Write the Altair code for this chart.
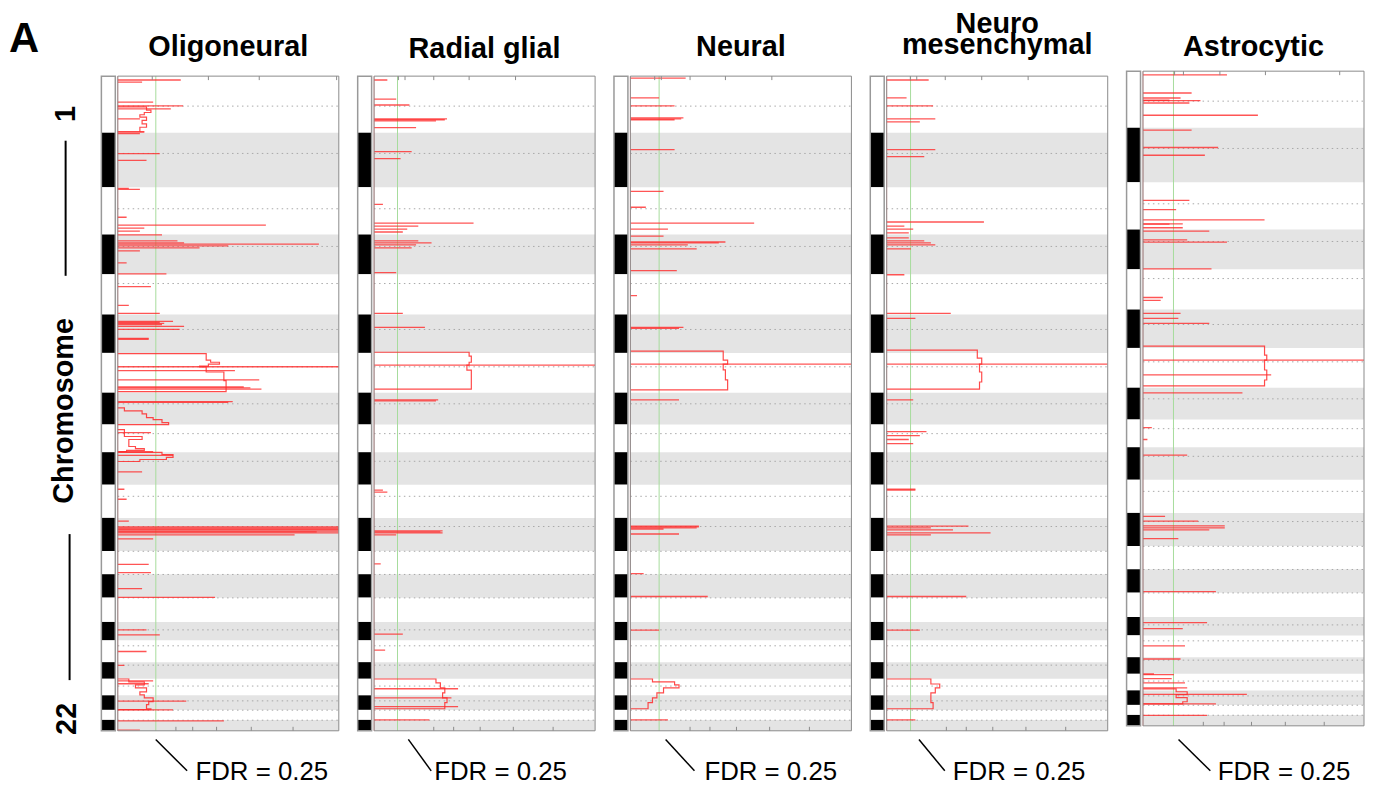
import altair as alt
import pandas as pd

# ---------------- data ----------------
chrom_len = [249, 240, 208, 175, 177, 169, 175, 140, 122, 143, 146, 146,
             102, 103, 107, 81, 96, 73, 73, 64, 44, 48]
cen_frac = [0.53, 0.38, 0.455, 0.30, 0.23, 0.39, 0.35, 0.35, 0.33, 0.28, 0.35, 0.26,
            0.01, 0.01, 0.01, 0.43, 0.25, 0.18, 0.44, 0.38, 0.03, 0.03]

panel_titles = ["Oligoneural", "Radial glial", "Neural", ["Neuro", "mesenchymal"], "Astrocytic"]
fdr_threshold = [0.172, 0.106, 0.130, 0.108, 0.138]
fdr_label = "FDR = 0.25"

ticks_top = [[0.156, 0.41, 0.64, 0.99],
             [0.11, 0.14, 0.27, 0.43, 0.64],
             [0.11, 0.14, 0.27, 0.43, 0.64],
             [0.107, 0.136, 0.265, 0.43, 0.64],
             [0.143, 0.183, 0.348, 0.554, 0.89]]
ticks_bottom = [[0.263, 0.339, 0.447, 0.604, 0.793],
                [0.27, 0.36, 0.48, 0.63, 0.81],
                [0.27, 0.36, 0.48, 0.63, 0.81],
                [0.27, 0.36, 0.48, 0.63, 0.81],
                [0.273, 0.367, 0.491, 0.644, 0.82]]

# spikes: genome position (Mb, cumulative) and score
p1_pos = [17, 26, 114, 131, 144, 188, 245, 253, 341, 371, 494, 498, 621, 656, 669, 682, 699,
          725, 734, 739, 747, 756, 769, 822, 870, 926, 1009, 1044, 1079, 1084, 1088, 1093, 1101,
          1114, 1154, 1158, 1279, 1296, 1337, 1368, 1372, 1377, 1432, 1436, 1569, 1653, 1669,
          1742, 1818, 1862, 1958, 1984, 1988, 1993, 1997, 2002, 2006, 2010, 2019, 2036, 2149,
          2185, 2255, 2294, 2437, 2459, 2532, 2593, 2661, 2674, 2750, 2789, 2837, 2878]
p1_val = [0.285, 0.11, 0.16, 0.295, 0.24, 0.10, 0.12, 0.10, 0.19, 0.13, 0.05, 0.10, 0.04, 0.67,
          0.12, 0.10, 0.20, 0.27, 0.30, 0.91, 0.50, 0.37, 0.10, 0.04, 0.22, 0.15, 0.05, 0.19,
          0.25, 0.19, 0.21, 0.20, 0.30, 0.28, 0.14, 0.14, 1.0, 0.53, 0.64, 0.57, 0.60, 0.65,
          0.52, 0.50, 0.15, 0.16, 0.25, 0.11, 0.03, 0.04, 0.05, 1.0, 1.0, 1.0, 1.0, 1.0, 0.9,
          1.0, 0.8, 0.16, 0.14, 0.15, 0.11, 0.44, 0.13, 0.19, 0.13, 0.03, 0.16, 0.14, 0.31,
          0.25, 0.48, 0.10]
p2_pos = [17, 101, 127, 188, 192, 197, 227, 332, 363, 564, 647, 660, 673, 686, 725, 734, 743,
          756, 865, 1044, 1106, 1272, 1425, 1429, 1822, 1831, 2001, 2006, 2010, 2019, 2146,
          2456, 2526, 2696, 2736, 2775, 2833]
p2_val = [0.06, 0.10, 0.16, 0.33, 0.32, 0.28, 0.19, 0.17, 0.12, 0.04, 0.45, 0.20, 0.15, 0.13,
          0.20, 0.26, 0.19, 0.17, 0.10, 0.13, 0.23, 1.0, 0.29, 0.28, 0.04, 0.06, 0.31, 0.30,
          0.31, 0.10, 0.03, 0.13, 0.05, 0.38, 0.35, 0.38, 0.25]
p3_pos = [9, 96, 131, 184, 188, 192, 323, 507, 577, 647, 673, 704, 730, 734, 743, 760, 856, 966,
          1106, 1110, 1267, 1425, 1980, 1984, 1988, 1993, 2015, 2189, 2290, 2438, 2833]
p3_val = [0.25, 0.13, 0.20, 0.24, 0.23, 0.20, 0.20, 0.15, 0.07, 0.56, 0.17, 0.15, 0.43, 0.40,
          0.26, 0.30, 0.21, 0.03, 0.24, 0.22, 1.0, 0.22, 0.31, 0.31, 0.30, 0.15, 0.22, 0.06,
          0.35, 0.13, 0.17]
p4_pos = [17, 96, 131, 188, 201, 323, 354, 642, 660, 673, 690, 712, 725, 734, 743, 760, 874,
          1044, 1066, 1267, 1425, 1564, 1582, 1599, 1617, 1818, 1822, 1980, 1988, 1997, 2010,
          2019, 2290, 2438, 2833]
p4_val = [0.19, 0.09, 0.21, 0.22, 0.15, 0.22, 0.17, 0.44, 0.08, 0.12, 0.10, 0.10, 0.17, 0.20,
          0.22, 0.11, 0.08, 0.29, 0.13, 1.0, 0.12, 0.18, 0.15, 0.10, 0.12, 0.13, 0.13, 0.37,
          0.20, 0.30, 0.47, 0.20, 0.36, 0.15, 0.13]
p5_pos = [16, 96, 118, 128, 130, 140, 194, 259, 336, 370, 569, 609, 654, 672, 673, 689, 704,
          742, 752, 870, 996, 1009, 1066, 1088, 1110, 1272, 1337, 1416, 1569, 1621, 1690, 1959,
          1980, 2001, 2010, 2019, 2057, 2290, 2427, 2453, 2529, 2587, 2653, 2656, 2673, 2692,
          2714, 2743, 2784, 2835]
p5_val = [0.38, 0.22, 0.17, 0.12, 0.26, 0.21, 0.52, 0.22, 0.34, 0.28, 0.21, 0.15, 0.55, 0.18,
          0.12, 0.18, 0.30, 0.20, 0.38, 0.31, 0.09, 0.08, 0.17, 0.16, 0.30, 1.0, 0.58, 0.45,
          0.04, 0.02, 0.20, 0.10, 0.25, 0.37, 0.37, 0.30, 0.16, 0.33, 0.29, 0.18, 0.19, 0.17,
          0.05, 0.14, 0.13, 0.19, 0.20, 0.47, 0.33, 0.29]

# broad-region profiles (position, score, segment id)
p1_prof_pos = [135, 135, 150, 160, 170, 180, 195, 210, 225, 245, 245,
               1221, 1221, 1250, 1259, 1267, 1276, 1280, 1293, 1302, 1340, 1388, 1388,
               1460, 1460, 1473, 1473, 1486, 1503, 1512, 1525, 1534, 1534,
               1556, 1556, 1586, 1586, 1599, 1630, 1639, 1647, 1652, 1652,
               1656, 1656, 1665, 1678, 1687, 1696, 1696,
               2653, 2653, 2666, 2679, 2692, 2710, 2723, 2736, 2753, 2766, 2784, 2788, 2788]
p1_prof_val = [0, 0.13, 0.15, 0.12, 0.10, 0.13, 0.11, 0.13, 0.10, 0.12, 0,
               0, 0.40, 0.42, 0.46, 0.41, 0.37, 0.40, 0.40, 0.48, 0.49, 0.49, 0,
               0, 0.03, 0.03, 0.11, 0.13, 0.16, 0.20, 0.23, 0.15, 0,
               0, 0.03, 0.05, 0.11, 0.05, 0.08, 0.12, 0.04, 0.04, 0,
               0, 0.20, 0.25, 0.22, 0.10, 0.05, 0,
               0, 0.05, 0.12, 0.08, 0.13, 0.10, 0.12, 0.16, 0.14, 0.13, 0.15, 0.10, 0]
p1_prof_grp = [1] * 11 + [2] * 12 + [3] * 10 + [4] * 10 + [5] * 7 + [6] * 13
p2_prof_pos = [1215, 1215, 1232, 1259, 1272, 1294, 1337, 1377, 1377,
               2653, 2653, 2670, 2692, 2714, 2736, 2757, 2784, 2784]
p2_prof_val = [0, 0.43, 0.44, 0.43, 0.42, 0.44, 0.44, 0.43, 0,
               0, 0.28, 0.30, 0.32, 0.31, 0.33, 0.32, 0.31, 0]
p2_prof_grp = [1] * 9 + [2] * 9
p3_prof_pos = [1210, 1210, 1250, 1267, 1293, 1337, 1381, 1381,
               2653, 2653, 2666, 2679, 2692, 2714, 2736, 2757, 2784, 2784]
p3_prof_val = [0, 0.42, 0.44, 0.42, 0.43, 0.44, 0.43, 0,
               0, 0.10, 0.20, 0.22, 0.15, 0.12, 0.10, 0.08, 0.06, 0]
p3_prof_grp = [1] * 8 + [2] * 10
p4_prof_pos = [1206, 1206, 1241, 1267, 1302, 1346, 1377, 1377,
               2653, 2653, 2675, 2692, 2714, 2736, 2757, 2784, 2784]
p4_prof_val = [0, 0.41, 0.43, 0.42, 0.43, 0.42, 0.42, 0,
               0, 0.20, 0.24, 0.22, 0.20, 0.20, 0.21, 0.20, 0]
p4_prof_grp = [1] * 8 + [2] * 9
p5_prof_pos = [1210, 1210, 1250, 1272, 1315, 1359, 1385, 1385,
               2718, 2718, 2731, 2744, 2757, 2775, 2784, 2784]
p5_prof_val = [0, 0.55, 0.56, 0.55, 0.56, 0.55, 0.55, 0,
               0, 0.15, 0.20, 0.15, 0.20, 0.18, 0.07, 0]
p5_prof_grp = [1] * 8 + [2] * 8

spikes = [(p1_pos, p1_val), (p2_pos, p2_val), (p3_pos, p3_val), (p4_pos, p4_val), (p5_pos, p5_val)]
profiles = [(p1_prof_pos, p1_prof_val, p1_prof_grp), (p2_prof_pos, p2_prof_val, p2_prof_grp),
            (p3_prof_pos, p3_prof_val, p3_prof_grp), (p4_prof_pos, p4_prof_val, p4_prof_grp),
            (p5_prof_pos, p5_prof_val, p5_prof_grp)]

# ---------------- layout ----------------
W, H = 239, 665
FRAME_PX = 659
starts, acc = [], 0
for L in chrom_len:
    starts.append(acc)
    acc += L
T = acc
K = FRAME_PX / T               # px per Mb
top_gap = [6, 6, 6, 6, 1]      # frame offset (px) from row top
XMIN, IDEO_R = -0.0742, -0.0112
title_y = [-14, -12, -14, -37, -14]
fdr_text_x = [94.7, 77, 91, 83, 91.7]
fdr_diag = [(54.7, 86.3), (51, 74), (52, 81), (49, 75), (52.3, 84.3)]
FONT = "Liberation Sans"
TICK = 4 / K
RED = "#ff2a2a"

chrom_df = pd.DataFrame({
    "chrom": list(range(1, 23)),
    "start": starts,
    "end": [s + L for s, L in zip(starts, chrom_len)],
    "cen": [s + f * L for s, f, L in zip(starts, cen_frac, chrom_len)],
    "fill": ["black" if c % 2 == 0 else "white" for c in range(1, 23)],
})
chrom_df["x0"] = 0.0
chrom_df["x1"] = 1.0
chrom_df["il"] = XMIN
chrom_df["ir"] = IDEO_R
band_df = chrom_df[chrom_df["fill"] == "black"]
frame_df = pd.DataFrame({"x0": [0.0], "x1": [1.0], "y0": [0.0], "y1": [float(T)],
                         "il": [XMIN], "ir": [IDEO_R], "xc": [0.5]})


def make_panel(i):
    lo = -top_gap[i] / K
    hi = lo + H / K
    xs = alt.Scale(domain=[XMIN, 1.0], nice=False, zero=False)
    ys = alt.Scale(domain=[lo, hi], nice=False, zero=False, reverse=True)

    def X(f):
        return alt.X(f, type="quantitative", scale=xs, axis=None)

    def Y(f):
        return alt.Y(f, type="quantitative", scale=ys, axis=None)

    fdf = frame_df.copy()
    fdf["thr"] = fdr_threshold[i]

    bands = alt.Chart(band_df).mark_rect(color="#e4e4e4").encode(
        x=X("x0"), x2="x1", y=Y("start"), y2="end")
    cens = alt.Chart(chrom_df).mark_rule(color="#a8a8a8", strokeDash=[1.5, 3.5], strokeWidth=1).encode(
        x=X("x0"), x2="x1", y=Y("cen"))
    green = alt.Chart(fdf).mark_rule(color="#a6dc9c", strokeWidth=1).encode(
        x=X("thr"), y=Y("y0"), y2="y1")
    base = alt.Chart(fdf).mark_rule(color="red", opacity=0.3, strokeWidth=1).encode(
        x=X("x0"), y=Y("y0"), y2="y1")
    sp = pd.DataFrame({"pos": spikes[i][0], "val": spikes[i][1]})
    sp["zero"] = 0.0
    spike = alt.Chart(sp).mark_rule(color=RED, opacity=0.8, strokeWidth=1.3, clip=True).encode(
        x=X("zero"), x2="val", y=Y("pos"))
    pr = pd.DataFrame({"pos": profiles[i][0], "val": profiles[i][1], "grp": profiles[i][2]})
    pr["ord"] = list(range(len(pr)))
    prof = alt.Chart(pr).mark_line(color=RED, opacity=0.85, strokeWidth=1.2, clip=True,
                                   interpolate="step-before").encode(
        x=X("val"), y=Y("pos"), detail="grp:N", order="ord:Q")
    frame = alt.Chart(fdf).mark_rect(fillOpacity=0, stroke="#8a8a8a", strokeWidth=1).encode(
        x=X("x0"), x2="x1", y=Y("y0"), y2="y1")
    ttd = pd.DataFrame({"t": ticks_top[i]})
    ttd["a"] = 0.0
    ttd["b"] = TICK
    tt = alt.Chart(ttd).mark_rule(color="#8a8a8a").encode(x=X("t"), y=Y("a"), y2="b")
    tbd = pd.DataFrame({"t": ticks_bottom[i]})
    tbd["a"] = T - TICK
    tbd["b"] = float(T)
    tb = alt.Chart(tbd).mark_rule(color="#8a8a8a").encode(x=X("t"), y=Y("a"), y2="b")
    ideo = alt.Chart(chrom_df).mark_rect().encode(
        x=X("il"), x2="ir", y=Y("start"), y2="end",
        color=alt.Color("fill:N", scale=None))
    ideo_frame = alt.Chart(fdf).mark_rect(fillOpacity=0, stroke="#999999", strokeWidth=1.5).encode(
        x=X("il"), x2="ir", y=Y("y0"), y2="y1")
    title = alt.Chart(fdf).mark_text(
        text=panel_titles[i], font=FONT, fontSize=29, fontWeight="bold",
        align="center", baseline="alphabetic", lineHeight=21, color="black").encode(
        x=X("xc"), y=alt.value(title_y[i]))
    d0, d1 = fdr_diag[i]
    diag = alt.Chart(fdf).mark_rule(color="black", strokeWidth=1.5).encode(
        x=alt.value(d0), x2=alt.value(d1), y=alt.value(673.7), y2=alt.value(705.3))
    ftxt = alt.Chart(fdf).mark_text(
        text=fdr_label, font=FONT, fontSize=26, align="left", baseline="alphabetic",
        color="black").encode(x=alt.value(fdr_text_x[i]), y=alt.value(715))

    layers = [bands, cens, green, base, prof, spike, frame, tt, tb, ideo, ideo_frame,
              title, diag, ftxt]
    if i == 0:
        layers += [
            alt.Chart(fdf).mark_text(text="A", font=FONT, fontSize=42, fontWeight="bold",
                                     align="left", baseline="alphabetic").encode(
                x=alt.value(-93), y=alt.value(-18)),
            alt.Chart(fdf).mark_text(text="Chromosome", font=FONT, fontSize=29,
                                     fontWeight="bold", angle=270, align="center",
                                     baseline="middle").encode(
                x=alt.value(-38), y=alt.value(343)),
            alt.Chart(fdf).mark_text(text="1", font=FONT, fontSize=29, fontWeight="bold",
                                     angle=270, align="center", baseline="middle").encode(
                x=alt.value(-36), y=alt.value(44)),
            alt.Chart(fdf).mark_text(text="22", font=FONT, fontSize=29, fontWeight="bold",
                                     angle=270, align="center", baseline="middle").encode(
                x=alt.value(-35), y=alt.value(653)),
            alt.Chart(fdf).mark_rule(color="black", strokeWidth=2).encode(
                x=alt.value(-36), y=alt.value(71), y2=alt.value(207)),
            alt.Chart(fdf).mark_rule(color="black", strokeWidth=2).encode(
                x=alt.value(-32), y=alt.value(467), y2=alt.value(614)),
        ]
    return alt.layer(*layers).properties(width=W, height=H)


chart = alt.hconcat(*[make_panel(i) for i in range(5)], spacing=17).configure_view(
    stroke=None).properties(padding={"left": 1, "top": 0, "right": 0, "bottom": 0})

chart.save("out.html", embed_options={"renderer": "svg", "actions": False})
